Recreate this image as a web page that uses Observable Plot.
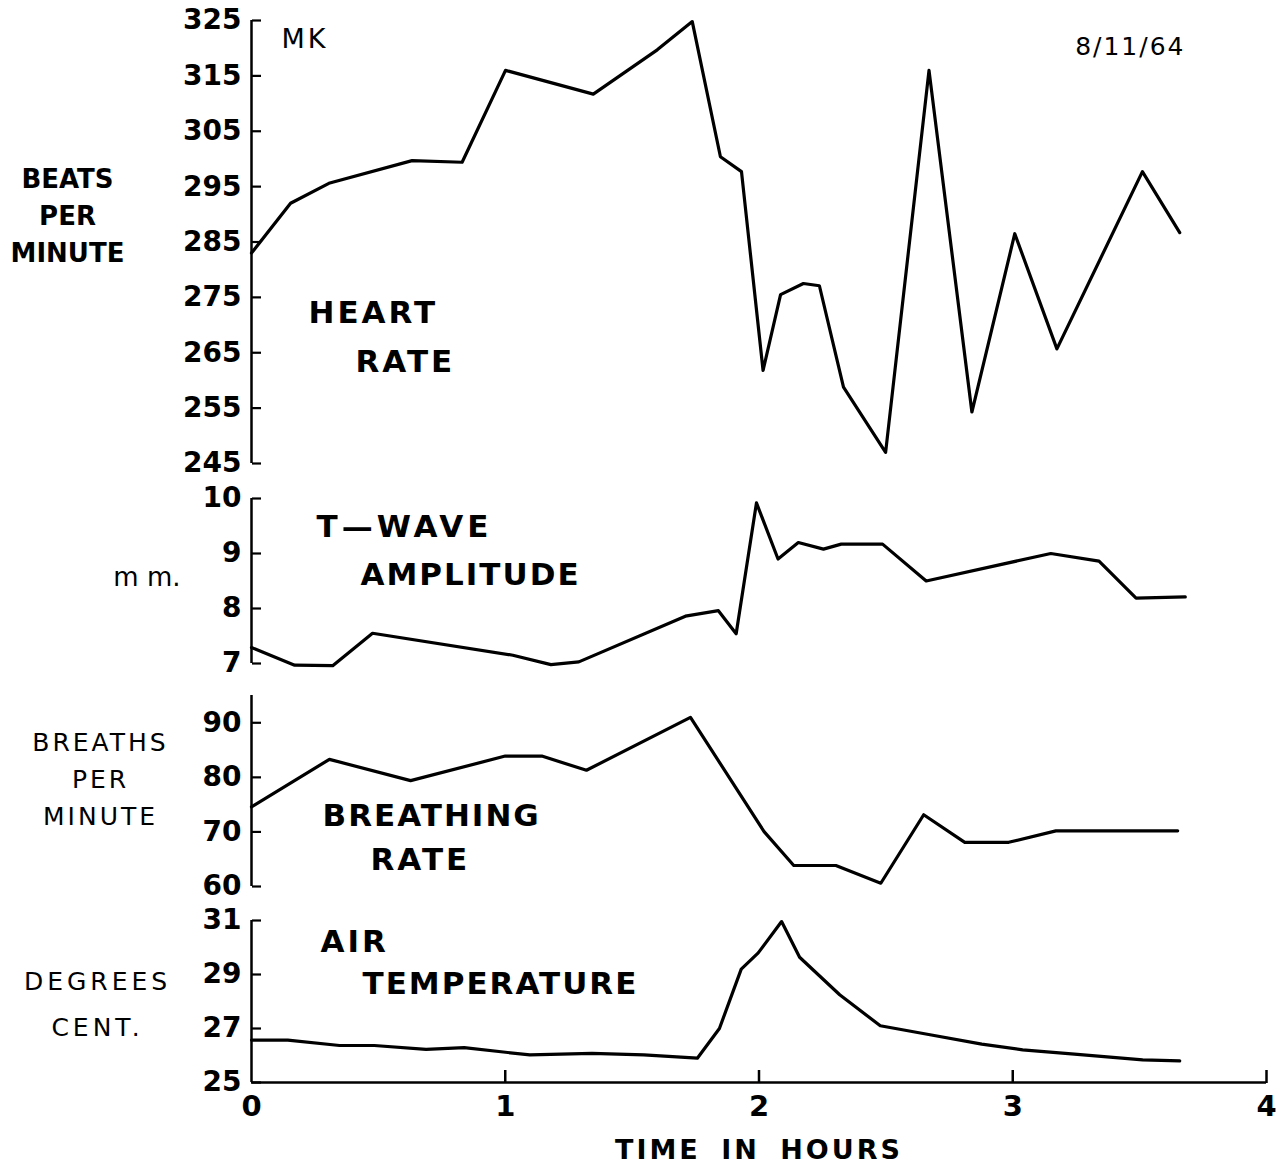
<!DOCTYPE html>
<html>
<head>
<meta charset="utf-8">
<script src="https://cdn.jsdelivr.net/npm/d3@7"></script>
<script src="https://cdn.jsdelivr.net/npm/@observablehq/plot@0.6"></script>
<style>
  body { margin: 0; background: #fff; }
  #chart { width: 1288px; height: 1165px; background: #fff; }
  #chart svg { display: block; }
</style>
</head>
<body>
<div id="chart"></div>
<script>
// ---------- data ----------
const heartTime = [0, 0.154, 0.305, 0.633, 0.830, 1.001, 1.347, 1.599, 1.737, 1.848, 1.931, 2.016, 2.085, 2.175, 2.238, 2.333, 2.499, 2.670, 2.839, 3.008, 3.174, 3.511, 3.658];
const heartRate = [283, 292, 295.6, 299.7, 299.4, 316, 311.7, 319.7, 324.8, 300.4, 297.7, 261.8, 275.5, 277.5, 277.1, 258.8, 247, 316, 254.3, 286.5, 265.7, 297.7, 286.7];

const tWaveTime = [0, 0.17, 0.32, 0.477, 1.03, 1.18, 1.29, 1.71, 1.84, 1.91, 1.99, 2.075, 2.155, 2.254, 2.324, 2.487, 2.659, 3.15, 3.34, 3.486, 3.68];
const tWaveAmp  = [7.29, 6.97, 6.96, 7.55, 7.15, 6.98, 7.03, 7.86, 7.96, 7.54, 9.92, 8.90, 9.20, 9.08, 9.17, 9.17, 8.50, 9.0, 8.86, 8.19, 8.21];

const breathTime = [0, 0.307, 0.627, 1.0, 1.144, 1.32, 1.73, 2.02, 2.137, 2.303, 2.48, 2.649, 2.811, 2.984, 3.17, 3.65];
const breathRate = [74.6, 83.3, 79.4, 83.9, 83.9, 81.3, 91.0, 70.05, 63.85, 63.85, 60.6, 73.15, 68.1, 68.1, 70.2, 70.2];

const airTime = [0, 0.143, 0.347, 0.484, 0.688, 0.838, 1.097, 1.342, 1.546, 1.757, 1.844, 1.93, 1.997, 2.089, 2.16, 2.318, 2.478, 2.674, 2.878, 3.039, 3.243, 3.512, 3.658];
const airTemp = [26.57, 26.57, 26.37, 26.37, 26.23, 26.29, 26.02, 26.08, 26.02, 25.9, 27.0, 29.2, 29.8, 30.96, 29.64, 28.25, 27.1, 26.77, 26.42, 26.21, 26.05, 25.84, 25.8];

const heartTicks  = [245, 255, 265, 275, 285, 295, 305, 315, 325];
const tWaveTicks  = [7, 8, 9, 10];
const breathTicks = [60, 70, 80, 90];
const airTicks    = [25, 27, 29, 31];
const hourTicks   = [0, 1, 2, 3, 4];

// ---------- layout ----------
const FONT = "'DejaVu Sans', sans-serif";
const W = 1288, ML = 251, MR = 22;
const zip = (ts, vs) => ts.map((t, i) => ({t, v: vs[i]}));
const fmt = d => String(d);

const spacing = {
  "HEART": "3px", "RATE": "3px", "T—WAVE": "4px", "AMPLITUDE": "2px",
  "BREATHING": "2px", "AIR": "3px", "TEMPERATURE": "2px",
  "BREATHSPERMINUTE": "3px", "DEGREESCENT.": "4px", "TIME IN HOURS": "3px", "MK": "3px", "8/11/64": "2px"
};

function label(text, dx, dy, opts = {}) {
  return Plot.text([text], {
    frameAnchor: opts.frameAnchor || "top-left", dx, dy,
    textAnchor: opts.textAnchor || "start", lineAnchor: "middle",
    fontSize: opts.fontSize || 30, fontWeight: opts.fontWeight || "bold",
    lineHeight: opts.lineHeight || 1.2, fill: "black"
  });
}

function panel({height, mt, mb, domain, ticks, data, marks = [], bottom = false}) {
  const xMarks = bottom ? [
    Plot.ruleY([domain[0]], {strokeWidth: 2.5}),
    Plot.axisX(hourTicks.slice(1), {anchor: "top", frameAnchor: "bottom", text: null, tickSize: 13, strokeWidth: 2.5, label: null}),
    Plot.axisX(hourTicks, {anchor: "bottom", tickSize: 0, tickPadding: 13, fontSize: 29, fontWeight: "bold", fill: "black", label: null, tickFormat: fmt})
  ] : [];
  const svg = Plot.plot({
    width: W, height,
    marginLeft: ML, marginRight: MR, marginTop: mt, marginBottom: mb,
    style: {fontFamily: FONT, background: "white", color: "black", overflow: "visible"},
    x: {domain: [0, 4], axis: bottom ? undefined : null, label: null},
    y: {domain, label: null},
    marks: [
      Plot.ruleX([0], {strokeWidth: 2.5}),
      Plot.axisY(ticks, {anchor: "left", tickSize: 0, tickPadding: 10, fontSize: 28, fontWeight: "bold", fill: "black", label: null, tickFormat: fmt}),
      Plot.axisY(ticks, {anchor: "right", frameAnchor: "left", text: null, tickSize: 9, strokeWidth: 2.2, label: null}),
      ...xMarks,
      Plot.line(data, {x: "t", y: "v", stroke: "black", strokeWidth: 3.2}),
      ...marks
    ]
  });
  d3.select(svg).selectAll("text").each(function() {
    const s = spacing[this.textContent];
    if (s) this.style.letterSpacing = s;
    if (this.textContent === "TIME IN HOURS") this.style.wordSpacing = "8px";
  });
  return svg;
}

const root = document.getElementById("chart");

root.appendChild(panel({
  height: 480, mt: 20, mb: 17, domain: [245, 325], ticks: heartTicks,
  data: zip(heartTime, heartRate),
  marks: [
    label("MK", 30, 17, {fontSize: 27, fontWeight: "normal"}),
    label("8/11/64", -81, 25, {frameAnchor: "top-right", textAnchor: "end", fontSize: 25, fontWeight: "normal"}),
    label("HEART", 57, 291, {fontSize: 31}),
    label("RATE", 104, 340, {fontSize: 31}),
    label("BEATS\nPER\nMINUTE", -184, 193, {textAnchor: "middle", fontSize: 26, lineHeight: 1.42})
  ]
}));

root.appendChild(panel({
  height: 200, mt: 18, mb: 17, domain: [7, 10], ticks: tWaveTicks,
  data: zip(tWaveTime, tWaveAmp),
  marks: [
    label("T—WAVE", 65, 27, {fontSize: 31}),
    label("AMPLITUDE", 109, 75, {fontSize: 31}),
    label("m m.", -71, 78, {textAnchor: "end", fontSize: 26, fontWeight: "normal"})
  ]
}));

root.appendChild(panel({
  height: 220, mt: 15, mb: 14, domain: [60, 95], ticks: breathTicks,
  data: zip(breathTime, breathRate),
  marks: [
    label("BREATHS\nPER\nMINUTE", -151, 81, {textAnchor: "middle", fontSize: 25, fontWeight: "normal", lineHeight: 1.48}),
    label("BREATHING", 71, 119, {fontSize: 31}),
    label("RATE", 119, 163, {fontSize: 31})
  ]
}));

root.appendChild(panel({
  height: 265, mt: 20, mb: 83, domain: [25, 31], ticks: airTicks,
  data: zip(airTime, airTemp), bottom: true,
  marks: [
    label("DEGREES\nCENT.", -154, 78, {textAnchor: "middle", fontSize: 25, fontWeight: "normal", lineHeight: 1.84}),
    label("AIR", 69, 20, {fontSize: 31}),
    label("TEMPERATURE", 111, 62, {fontSize: 31}),
    label("TIME IN HOURS", 0, 66, {frameAnchor: "bottom", textAnchor: "middle", fontSize: 27})
  ]
}));
</script>
</body>
</html>
